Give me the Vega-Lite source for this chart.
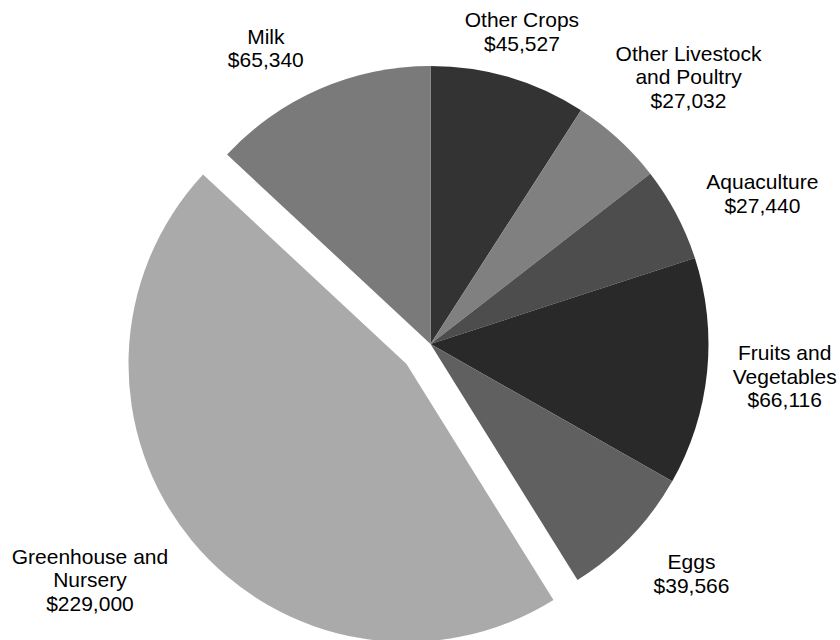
{
  "$schema": "https://vega.github.io/schema/vega-lite/v6.json",
  "autosize": {"type": "none"},
  "width": 819,
  "height": 592,
  "padding": {"left": 21, "top": 48, "right": 0, "bottom": 0},
  "background": "white",
  "view": {"stroke": null},
  "config": {"text": {"font": "Liberation Sans", "fontSize": 21, "lineHeight": 23.5, "lineBreak": "\n", "color": "black"}},
  "data": {"values": [
    {"category": "Other Crops", "value": 45527, "order": 1, "label": "Other Crops\n$45,527"},
    {"category": "Other Livestock and Poultry", "value": 27032, "order": 2, "label": "Other Livestock\nand Poultry\n$27,032"},
    {"category": "Aquaculture", "value": 27440, "order": 3, "label": "Aquaculture\n$27,440"},
    {"category": "Fruits and Vegetables", "value": 66116, "order": 4, "label": "Fruits and\nVegetables\n$66,116"},
    {"category": "Eggs", "value": 39566, "order": 5, "label": "Eggs\n$39,566"},
    {"category": "Greenhouse and Nursery", "value": 229000, "order": 6, "label": "Greenhouse and\nNursery\n$229,000"},
    {"category": "Milk", "value": 65340, "order": 7, "label": "Milk\n$65,340"}
  ]},
  "encoding": {
    "theta": {"field": "value", "type": "quantitative", "stack": true},
    "order": {"field": "order", "type": "quantitative"}
  },
  "layer": [
    {
      "mark": {"type": "arc", "outerRadius": 278, "stroke": null},
      "encoding": {
        "color": {"field": "category", "type": "nominal", "legend": null,
          "scale": {"domain": ["Other Crops", "Other Livestock and Poultry", "Aquaculture", "Fruits and Vegetables", "Eggs", "Greenhouse and Nursery", "Milk"],
                    "range": ["#333333", "#808080", "#4d4d4d", "#292929", "#606060", "#aaaaaa", "#7a7a7a"]}},
        "opacity": {"condition": {"test": "datum.category === 'Greenhouse and Nursery'", "value": 0}, "value": 1}
      }
    },
    {
      "mark": {"type": "arc", "outerRadius": 278, "stroke": null, "xOffset": -24, "yOffset": 20},
      "encoding": {
        "color": {"field": "category", "type": "nominal", "legend": null},
        "opacity": {"condition": {"test": "datum.category === 'Greenhouse and Nursery'", "value": 1}, "value": 0}
      }
    },
    {
      "mark": {"type": "text", "radius": 324, "dx": 0, "dy": -12},
      "encoding": {"text": {"field": "label"}, "opacity": {"condition": {"test": "datum.category === 'Other Crops'", "value": 1}, "value": 0}}
    },
    {
      "mark": {"type": "text", "radius": 370, "dx": 8, "dy": -16.5},
      "encoding": {"text": {"field": "label"}, "opacity": {"condition": {"test": "datum.category === 'Other Livestock and Poultry'", "value": 1}, "value": 0}}
    },
    {
      "mark": {"type": "text", "radius": 363, "dx": 11, "dy": 9},
      "encoding": {"text": {"field": "label"}, "opacity": {"condition": {"test": "datum.category === 'Aquaculture'", "value": 1}, "value": 0}}
    },
    {
      "mark": {"type": "text", "radius": 356, "dx": 0, "dy": -25.5},
      "encoding": {"text": {"field": "label"}, "opacity": {"condition": {"test": "datum.category === 'Fruits and Vegetables'", "value": 1}, "value": 0}}
    },
    {
      "mark": {"type": "text", "radius": 348, "dx": 10, "dy": -22},
      "encoding": {"text": {"field": "label"}, "opacity": {"condition": {"test": "datum.category === 'Eggs'", "value": 1}, "value": 0}}
    },
    {
      "mark": {"type": "text", "radius": 414, "dx": -21, "dy": -49.5},
      "encoding": {"text": {"field": "label"}, "opacity": {"condition": {"test": "datum.category === 'Greenhouse and Nursery'", "value": 1}, "value": 0}}
    },
    {
      "mark": {"type": "text", "radius": 335, "dx": -31, "dy": 1},
      "encoding": {"text": {"field": "label"}, "opacity": {"condition": {"test": "datum.category === 'Milk'", "value": 1}, "value": 0}}
    }
  ]
}
